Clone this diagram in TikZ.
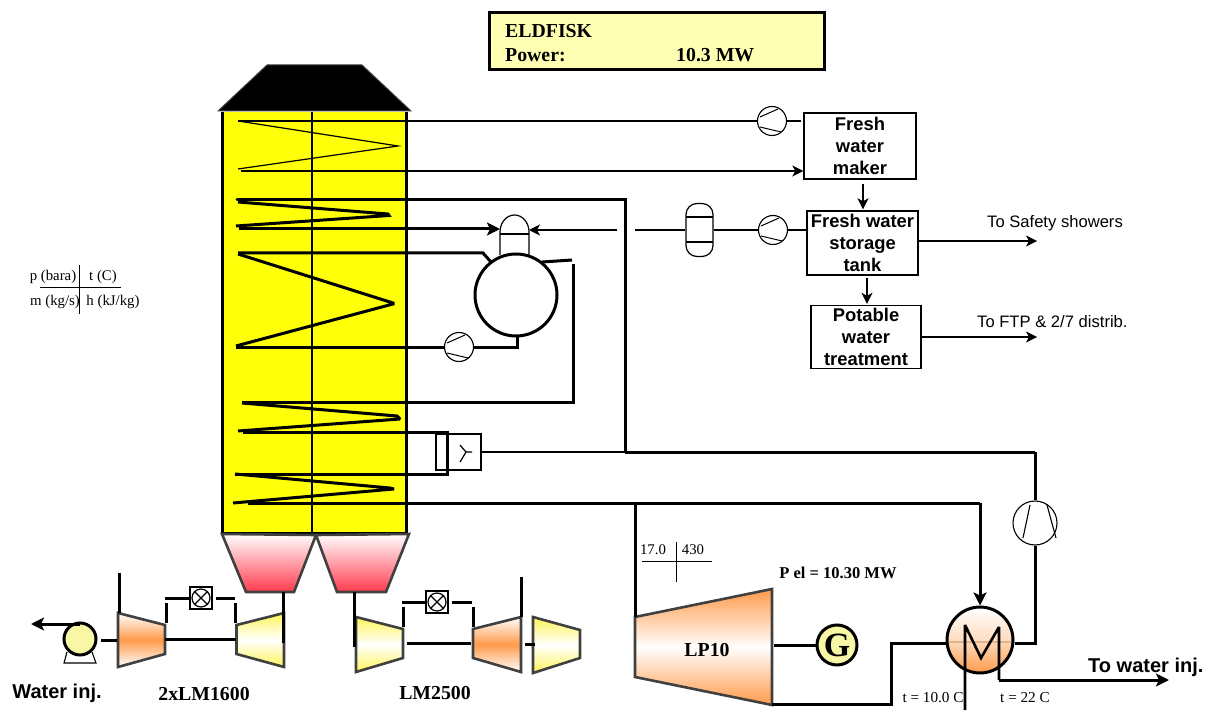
\documentclass[tikz,border=0pt]{standalone}
\usepackage{fontspec}
\setmainfont{Liberation Serif}
\newfontfamily\hv{Liberation Sans}
\usetikzlibrary{arrows.meta,calc,shapes.geometric}
\definecolor{stackY}{HTML}{FFFF0A}
\definecolor{paleY}{HTML}{F7F7A6}
\definecolor{boxY}{HTML}{FFFFB3}
\definecolor{orangeM}{HTML}{FF9A4A}
\definecolor{redB}{HTML}{FF3B4E}
\definecolor{yelT}{HTML}{FFF55A}
\definecolor{edgeG}{HTML}{404040}
\tikzset{
 x=1pt,y=-1pt,
 thinl/.style={line width=1.2pt},
 midl/.style={line width=2pt},
 thickl/.style={line width=3pt},
 bigtip/.style={-{Stealth[length=13pt,width=13pt,inset=3pt]}},
 smalltip/.style={-{Stealth[length=11pt,width=11pt,inset=3pt]}},
 procbox/.style={draw,line width=1.4pt,inner sep=0pt,align=center,font=\hv\bfseries\fontsize{18.4}{22}\selectfont},
 rotor/.style={circle,draw,line width=1.1pt,inner sep=0pt,fill=white},
 lab/.style={inner sep=0pt,font=\hv\fontsize{16.6}{18}\selectfont},
 blab/.style={inner sep=0pt,font=\hv\bfseries\fontsize{20}{22}\selectfont},
 tlab/.style={inner sep=0pt,font=\bfseries\fontsize{19.8}{22}\selectfont},
 small/.style={inner sep=0pt,font=\fontsize{14.8}{16}\selectfont},
 machine/.style={draw=edgeG,line width=2.6pt,line join=miter},
 compfill/.style={top color=white,bottom color=white,middle color=orangeM},
 turbfill/.style={top color=yelT,bottom color=yelT,middle color=white},
 lpfill/.style={top color=orangeM,bottom color=orangeM,middle color=white},
 burnfill/.style={top color=white,bottom color=redB},
 valvebox/.style={draw,line width=1.2pt,minimum width=22pt,minimum height=22pt,inner sep=0pt,fill=white},
}
\newcommand{\fanlines}[3]{%
 \node[rotor,minimum size=29pt] (#1) at (#2,#3) {};
 \draw[line width=1pt] ($(#1)+(-12,-4)$) -- ($(#1)+(6,-12)$);
 \draw[line width=1pt] ($(#1)+(-12,6)$) -- ($(#1)+(9,11)$);
}
\newcommand{\valvesym}[3]{%
 \node[valvebox] (#1) at (#2,#3) {};
 \node[circle,draw,line width=1.2pt,minimum size=18pt,inner sep=0pt] (#1c) at (#2,#3) {};
 \draw[line width=1.1pt] (#1c.north west) -- (#1c.south east) (#1c.north east) -- (#1c.south west);
}
\begin{document}
\begin{tikzpicture}
\useasboundingbox (0,0) rectangle (1210,711);

% header
\node[draw,line width=3pt,fill=boxY,minimum width=335pt,minimum height=57pt,inner sep=0pt] (hdr) at (656.5,41.5) {};
\node[tlab,anchor=west] (hdrA) at (505,31) {ELDFISK};
\node[tlab,anchor=west] (hdrB) at (505,55) {Power:};
\node[tlab,anchor=west] (hdrC) at (676,55) {10.3 MW};

% stack
\fill[stackY] (222,112) rectangle (406,533);
\fill[black,draw=edgeG,line width=1pt] (218,111) -- (267,65) -- (362,65) -- (411,111) -- cycle;
\draw[line width=3pt] (222,112) -- (222,533) -- (406,533) -- (406,112);
\draw[line width=1.3pt] (312,112) -- (312,533);

% burners
\draw[machine,burnfill] (222,534) -- (316,535) -- (294,592) -- (246,592) -- cycle;
\draw[machine,burnfill] (316,535) -- (409,534) -- (386,592) -- (337,592) -- cycle;

% coordinates of coil ends
\coordinate (c1a) at (238,121);
\coordinate (c1b) at (241,171);
\coordinate (c2a) at (237,200);
\coordinate (c2b) at (239,229);
\coordinate (c3a) at (238,253);
\coordinate (c3b) at (236,347);
\coordinate (c4a) at (242,402);
\coordinate (c4b) at (243,432);
\coordinate (c5a) at (235,474);
\coordinate (c5b) at (248,503);
\coordinate (jTop) at (625,200);
\coordinate (jSteam) at (625,452);
\coordinate (jLP) at (635,503);
\coordinate (jHX) at (980,503);
\coordinate (jCool) at (1035,452);
\coordinate (jRetTop) at (573,264);
\coordinate (jRetBot) at (573,402);
\coordinate (jLoopA) at (447,432);
\coordinate (jLoopB) at (447,474);
\coordinate (tipA) at (1037,241);
\coordinate (tipB) at (1037,337);

% coils
\draw[line width=1.2pt] (c1a) -- (398,146) -- (238,169);
\draw[line width=3pt,line join=miter,miter limit=2] (238,202) -- (388,214) -- (389,215.5) -- (236,226);
\draw[line width=3pt,line join=miter,miter limit=2] (238,254) -- (393,303) -- (393,304) -- (236,346);
\draw[line width=3pt,line join=miter,miter limit=2] (242,403) -- (397,416) -- (400,419) -- (238,431);
\draw[line width=3pt,line join=miter,miter limit=2] (c5a) -- (390,488) -- (394,489) -- (233,503);

% drum and vessels
\draw[line width=1.2pt,fill=white] (500,255) -- (500,232) arc[start angle=180,end angle=0,x radius=14.5,y radius=-17] -- (529,255);
\draw[line width=1.2pt] (500,234) -- (529,234);
\node[circle,draw,line width=3pt,fill=white,minimum size=82pt,inner sep=0pt] (drum) at (516,295) {};
\coordinate (ves) at (500,229);
\coordinate (vesR) at (529,230);

% process boxes
\node[procbox,minimum width=112pt,minimum height=66pt] (fwm) at (860,146) {Fresh\\water\\maker};
\node[procbox,minimum width=111pt,minimum height=64pt] (fwt) at (862.5,243) {Fresh water\\storage\\tank};
\node[procbox,minimum width=110pt,minimum height=63pt] (pwt) at (866,337) {Potable\\water\\treatment};

% rotors
\fanlines{pA}{772}{121}
\fanlines{pB}{773}{230}
\fanlines{pC}{459}{347}

% buffer vessel
\node[draw,line width=1.2pt,rounded corners=11pt,minimum width=27pt,minimum height=53pt,inner sep=0pt,fill=white] (buf) at (699.5,230) {};
\draw[line width=1.2pt] (686,217) -- (713,217) (686,242) -- (713,242);

% water lines
\draw[thinl] (c1a) -- (pA.west);
\draw[thinl] (pA.east) -- (801,121);
\draw[thinl,smalltip] (c1b) -- (fwm.west |- c1b);
\draw[thinl,smalltip] ($(fwm.south)+(3,4)$) -- ($(fwt.north)+(0.5,-1)$);
\draw[thinl,smalltip] ($(fwt.south)+(4.5,2)$) -- ($(pwt.north)+(1,-1)$);
\draw[thinl,smalltip] (fwt.east |- tipA) -- (tipA);
\draw[thinl,smalltip] (pwt.east) -- (tipB);
\draw[thinl] (fwt.west |- pB) -- (pB.east);
\draw[thinl] (pB.west) -- (buf.east);
\draw[thinl] (buf.west) -- (635,230);
\draw[thinl,smalltip] (617,230) -- (vesR);
\node[lab,anchor=west] (tsafe) at (987,223) {To Safety showers};
\node[lab,anchor=west] (tftp) at (977,322) {To FTP \& 2/7 distrib.};

% heavy lines
\draw[thickl,line cap=round] (c2a) -- (jTop) -- (jSteam);
\draw[thickl,bigtip] (c2b) -- (ves);
\draw[thickl] (c3a) -- (483,253) -- (491,262);
\draw[thickl] (542,262) -- (572,260);
\draw[thickl] (c3b) -- (pC.west);
\draw[thickl] (pC.east) -- (517,347) -- (517,336);
\draw[thickl] (jRetTop) -- (jRetBot) -- (c4a);
\draw[thickl,line join=miter] (c4b) -- (jLoopA) -- (jLoopB) -- (c5a);
\draw[thickl] (c5b) -- (jLP);

% ejector
\node[draw,line width=1.2pt,fill=white,minimum width=33pt,minimum height=36pt,inner sep=0pt] (eje) at (464.5,452) {};
\node[draw,line width=1.2pt,minimum width=12pt,minimum height=36pt,inner sep=0pt] (ejeI) at (442,452) {};
\draw[line width=1.2pt] (460,445) -- (466,452) -- (460,462) (466,452) -- (472,452);
\draw[line width=2.6pt,line join=miter] (406,432) -- (jLoopA) -- (jLoopB) -- (406,474);
\draw[thinl] (eje.east) -- (jSteam);

% steam system right side
\draw[thickl] (jSteam) -- (jCool);
\node[rotor,minimum size=44pt] (comp) at (1035,523) {};
\draw[line width=1.1pt] (1030,505) -- (1023,538) (1047,505) -- (1056,538);
\draw[thickl] (jCool) -- (comp.north);

% LP10
\draw[machine,lpfill] (635,617) -- (772,589) -- (772,705) -- (635,677) -- cycle;
\node[tlab] (lptxt) at (707,650) {LP10};
\draw[thickl] (jLP) -- (635,617);
\draw[thickl] (jLP) -- (jHX);
\node[circle,draw,line width=3pt,fill=paleY,minimum size=40pt,inner sep=0pt,font=\bfseries\fontsize{34}{34}\selectfont] (gen) at (837,645) {G};
\draw[thickl] (774,645) -- (gen.west);

% heat exchanger
\node[circle,draw,line width=3pt,minimum size=66pt,inner sep=0pt,top color=white,bottom color=orangeM,middle color=orangeM!35!white] (hx) at (980,640) {};
\draw[line width=1.5pt,color=brown!70!white,opacity=.7] (949,642) -- (1011,642);
\draw[line width=2.6pt,line join=miter,miter limit=3] (965,710) -- (965,625) -- (981,658) -- (999,627) -- (999,680);
\draw[thickl,bigtip] (999,680) -- (1169,680);
\draw[thickl,bigtip] (jHX) -- (hx.north);
\draw[thickl] (772,704) -- (891,704) -- (891,643) -- (hx.west |- 0,643);
\draw[thickl] (hx.east |- 0,643) -- (1035,643) -- (comp.south);
\node[inner sep=0pt,font=\fontsize{15.2}{16}\selectfont] (t10) at (933,698) {t = 10.0 C};
\node[inner sep=0pt,font=\fontsize{15.2}{16}\selectfont] (t22) at (1025,698) {t = 22 C};
\node[blab,anchor=west] (towi) at (1088,667) {To water inj.};
\node[inner sep=0pt,font=\bfseries\fontsize{16.5}{18}\selectfont] (pel) at (838,573) {P el = 10.30 MW};

% small tag
\node[small] (tag1) at (653,550) {17.0};
\node[small] (tag2) at (693,550) {430};
\draw[line width=1pt] (642,561) -- (712,561) (676,542) -- (676,582);

% legend
\node[small] (l1) at (53,277) {p (bara)};
\node[small] (l2) at (103,277) {t (C)};
\node[small] (l3) at (55,302) {m (kg/s)};
\node[small] (l4) at (113,302) {h (kJ/kg)};
\draw[line width=1pt] (40,288) -- (121,288) (79,265) -- (79,314);

% LM1600 train
\node[circle,draw,line width=3pt,fill=paleY,minimum size=32pt,inner sep=0pt] (wp) at (80,639) {};
\draw[line width=1.1pt] (67,652) -- (64,663) -- (96,663) -- (92,652);
\coordinate (wpEnd) at (31,624);
\draw[thickl,bigtip] (wp.north |- wpEnd) -- (wpEnd);
\draw[machine,compfill] (118,613) -- (165,625) -- (165,654) -- (118,667) -- cycle;
\draw[machine,turbfill] (236.5,625) -- (284,613) -- (284,667) -- (236.5,654) -- cycle;
\draw[thickl] (101,640) -- (117,640);
\draw[thickl] (165,639) -- (236,639);
\draw[thickl] (119,573) -- (119,613);
\draw[thickl] (283,592) -- (283,643);
\valvesym{vA}{201}{598}
\draw[thickl] (166,603) -- (166,623);
\draw[thickl] (235,603) -- (235,623);
\draw[thickl] (165,598) -- (vA.west);
\draw[thickl] (216,598) -- (235,598);

% LM2500 train
\draw[machine,turbfill] (356,617) -- (403,629) -- (403,658) -- (356,672) -- cycle;
\draw[machine,compfill] (473,629) -- (521,617) -- (521,672) -- (473,658) -- cycle;
\draw[machine,turbfill] (533,617) -- (580,630) -- (580,658) -- (533,673) -- cycle;
\draw[thickl] (354,592) -- (354,647);
\draw[thickl] (407,643) -- (471,643);
\draw[thickl] (521,577) -- (521,617);
\draw[thickl] (525,644) -- (535,644);
\valvesym{vB}{437}{602}
\draw[thickl] (403,607) -- (403,627);
\draw[thickl] (473,607) -- (473,627);
\draw[thickl] (402,602) -- (vB.west);
\draw[thickl] (452,602) -- (472,602);

% captions
\node[blab] (wi) at (57,693) {Water inj.};
\node[tlab] (lm1) at (204,694) {2xLM1600};
\node[tlab] (lm2) at (435,693) {LM2500};
\end{tikzpicture}
\end{document}
